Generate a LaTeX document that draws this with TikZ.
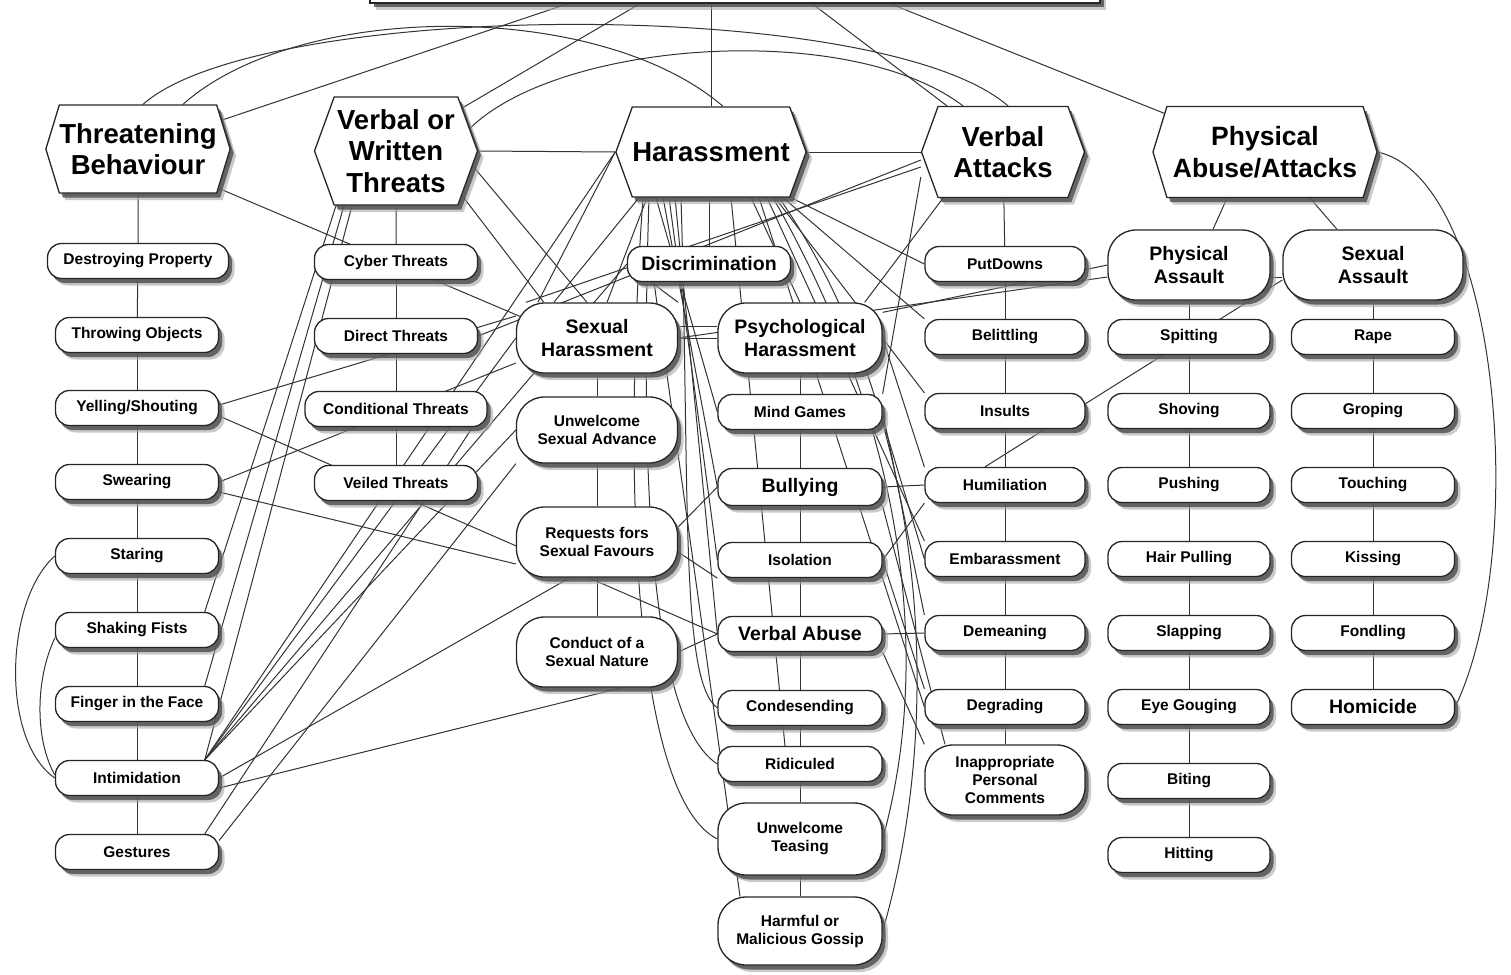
\documentclass[tikz,border=0pt]{standalone}
\usepackage{fontspec}
\setmainfont{Liberation Sans}
\usetikzlibrary{shapes.symbols,shadows,backgrounds}

\tikzset{
	shade/.style={general shadow={shadow xshift=6pt, shadow yshift=-7pt, fill=black!35, opacity=0.6},
		general shadow={shadow xshift=3.5pt, shadow yshift=-4.5pt, fill=black!70, opacity=0.8}},
	box/.style={rectangle, draw=black!85, line width=1.3pt, fill=white, rounded corners=14pt, minimum width=163pt, minimum height=35pt, inner sep=0pt, align=center, font=\fontsize{15.5}{18}\selectfont\bfseries, shade},
	bigbox/.style={box, rounded corners=28pt, minimum height=70pt},
	boldfont/.style={font=\fontsize{19.5}{22.5}\selectfont\bfseries},
	hexa/.style={signal, signal to=west and east, signal pointer angle=140, draw=black!85, line width=1.3pt, fill=white, inner sep=0pt, align=center, font=\fontsize{27.5}{31.5}\selectfont\bfseries, shade},
	link/.style={line width=1pt, draw=black!80},
}

\begin{document}
\begin{tikzpicture}[x=1pt, y=-1pt]
	\useasboundingbox (0,0) rectangle (1511,974);

	\node[draw=black!85, line width=1.3pt, fill=white, minimum width=730pt, minimum height=60pt, shade] (top) at (735,-27) {};

	\node[hexa, minimum width=184pt, minimum height=88pt, signal pointer angle=146] (tb) at (138,149) {Threatening\\Behaviour};
	\node[hexa, minimum width=163pt, minimum height=108pt] (vwt) at (396,151)  {Verbal or\\Written\\Threats};
	\node[hexa, minimum width=188pt, minimum height=90pt]  (har) at (711,152)  {Harassment};
	\node[hexa, minimum width=163pt, minimum height=91pt]  (vat) at (1003,152) {Verbal\\Attacks};
	\node[hexa, minimum width=224pt, minimum height=91pt, signal pointer angle=146, font=\fontsize{26.5}{31.5}\selectfont\bfseries] (paa) at (1265,152) {Physical\\Abuse/Attacks};

	\node[box, minimum width=181pt] (dp)   at (138,261) {Destroying Property};
	\node[box]                      (tob)  at (137,335) {Throwing Objects};
	\node[box]                      (ys)   at (137,408) {Yelling/Shouting};
	\node[box]                      (sw)   at (137,482) {Swearing};
	\node[box]                      (sta)  at (137,556) {Staring};
	\node[box]                      (sf)   at (137,630) {Shaking Fists};
	\node[box]                      (ff)   at (137,704) {Finger in the Face};
	\node[box]                      (inti) at (137,778) {Intimidation};
	\node[box]                      (ges)  at (137,852) {Gestures};

	\node[box]                      (cyt) at (396,262) {Cyber Threats};
	\node[box]                      (dit) at (396,336) {Direct Threats};
	\node[box, minimum width=182pt] (cot) at (396,409) {Conditional Threats};
	\node[box]                      (vet) at (396,483) {Veiled Threats};

	\node[bigbox, boldfont, minimum width=161pt] (sh)  at (597,338) {Sexual\\Harassment};
	\node[bigbox, minimum width=161pt, minimum height=66pt] (usa) at (597,430) {Unwelcome\\Sexual Advance};
	\node[bigbox, minimum width=161pt] (rsf) at (597,542) {Requests fors\\Sexual Favours};
	\node[bigbox, minimum width=161pt] (csn) at (597,652) {Conduct of a\\Sexual Nature};
	\node[box, boldfont] (disc) at (709,264) {Discrimination};

	\node[bigbox, boldfont, minimum width=164pt] (ph) at (800,338) {Psychological\\Harassment};
	\node[box, minimum width=164pt]           (mg)   at (800,412) {Mind Games};
	\node[box, boldfont, minimum width=164pt, minimum height=37pt] (bul) at (800,487) {Bullying};
	\node[box, minimum width=164pt]           (iso)  at (800,560) {Isolation};
	\node[box, boldfont, minimum width=164pt] (vab)  at (800,634) {Verbal Abuse};
	\node[box, minimum width=164pt]           (cond) at (800,708) {Condesending};
	\node[box, minimum width=164pt]           (rid)  at (800,764) {Ridiculed};
	\node[bigbox, minimum width=164pt, minimum height=72pt] (ute) at (800,839) {Unwelcome\\Teasing};
	\node[bigbox, minimum width=164pt, minimum height=68pt] (hmg) at (800,931) {Harmful or\\Malicious Gossip};

	\node[box, minimum width=160pt] (pd)  at (1005,264) {PutDowns};
	\node[box, minimum width=160pt] (bel) at (1005,337) {Belittling};
	\node[box, minimum width=160pt] (ins) at (1005,411) {Insults};
	\node[box, minimum width=160pt] (hum) at (1005,485) {Humiliation};
	\node[box, minimum width=160pt] (emb) at (1005,559) {Embarassment};
	\node[box, minimum width=160pt] (dem) at (1005,633) {Demeaning};
	\node[box, minimum width=160pt] (deg) at (1005,707) {Degrading};
	\node[bigbox, minimum width=160pt] (ipc) at (1005,780) {Inappropriate\\Personal\\Comments};

	\node[bigbox, boldfont, minimum width=162pt] (pas) at (1189,265) {Physical\\Assault};
	\node[box, minimum width=162pt] (spi) at (1189,337) {Spitting};
	\node[box, minimum width=162pt] (sho) at (1189,411) {Shoving};
	\node[box, minimum width=162pt] (pus) at (1189,485) {Pushing};
	\node[box, minimum width=162pt] (hp)  at (1189,559) {Hair Pulling};
	\node[box, minimum width=162pt] (sla) at (1189,633) {Slapping};
	\node[box, minimum width=162pt] (eg)  at (1189,707) {Eye Gouging};
	\node[box, minimum width=162pt] (bit) at (1189,781) {Biting};
	\node[box, minimum width=162pt] (hit) at (1189,855) {Hitting};

	\node[bigbox, boldfont, minimum width=180pt] (sas) at (1373,265) {Sexual\\Assault};
	\node[box] (rap) at (1373,337) {Rape};
	\node[box] (gro) at (1373,411) {Groping};
	\node[box] (tou) at (1373,485) {Touching};
	\node[box] (kis) at (1373,559) {Kissing};
	\node[box] (fon) at (1373,633) {Fondling};
	\node[box, boldfont] (hom) at (1373,707) {Homicide};

	\begin{scope}[on background layer]
		\foreach \a/\b in {tb/dp,dp/tob,tob/ys,ys/sw,sw/sta,sta/sf,sf/ff,ff/inti,inti/ges,
			vwt/cyt,cyt/dit,dit/cot,cot/vet,sh/usa,usa/rsf,rsf/csn,
			ph/mg,mg/bul,bul/iso,iso/vab,vab/cond,cond/rid,rid/ute,ute/hmg,
			vat/pd,pd/bel,bel/ins,ins/hum,hum/emb,emb/dem,dem/deg,deg/ipc,
			pas/spi,spi/sho,sho/pus,pus/hp,hp/sla,sla/eg,eg/bit,bit/hit,
			sas/rap,rap/gro,gro/tou,tou/kis,kis/fon,fon/hom}
			\draw[link] (\a) to (\b);

		\draw[link] (har.north) to (har.north |- top.south);
		\draw[link] (tb.19) to ([xshift=-167pt]top.south);
		\draw[link] (vwt.33) to ([xshift=-95pt]top.south);
		\draw[link] ([xshift=-56pt]vat.north) to ([xshift=77pt]top.south);
		\draw[link] (paa.159) to ([xshift=155pt]top.south);
		\draw[link] ([xshift=5pt]tb.north) .. controls (260,0) and (880,-5) .. ([xshift=5pt]vat.north);
		\draw[link] ([xshift=45pt]tb.north) .. controls (300,0) and (600,0) .. ([xshift=12pt]har.north);
		\draw[link] (vwt.17) .. controls (560,40) and (850,20) .. ([xshift=-40pt]vat.north);
		\draw[link] (vwt.east) to (har.west);
		\draw[link] (har.east) to (vat.west);
		\draw[link] (paa.east) .. controls (1500,180) and (1530,550) .. (hom.east);

		\draw[link] ([xshift=-38pt]paa.south) to ([xshift=24pt]pas.north);
		\draw[link] ([xshift=45pt]paa.south) to ([xshift=-36pt]sas.north);
		\draw[link] ([yshift=-12pt]pas.east) to ([yshift=-12pt]sas.west);
		\draw[link] (pas.west) to ([yshift=-10pt]ph.north east);
		\draw[link] ([yshift=-12pt]pas.west) to (sh.east);
		\draw[link] ([yshift=-15pt]sas.west) to ([xshift=-20pt]hum.north);

		\draw[link] (sta.west) .. controls (5,600) and (0,740) .. (inti.west);
		\draw[link] ([yshift=-8pt]sf.west) .. controls (35,680) and (35,740) .. ([yshift=3pt]inti.west);
		\draw[link] ([xshift=-60pt]vwt.south) to (sf.15);
		\draw[link] ([xshift=-52pt]vwt.south) to (ff.15);
		\draw[link] ([xshift=-44pt]vwt.south) to (inti.15);
		\draw[link] (inti.15) to (har.west);
		\draw[link] (inti.15) to (sh.west);
		\draw[link] (inti.15) to (usa.west);
		\draw[link] (inti.15) to (disc.west);
		\draw[link] (inti.east) to ([xshift=-27pt]rsf.south);
		\draw[link] ([yshift=-10pt]inti.east) to ([xshift=25pt]csn.south);
		\draw[link] (ges.15) to ([xshift=-15pt]cot.south east);
		\draw[link] (ges.8) to (usa.south west);

		\draw[link] (tb.-26) to ([xshift=4pt,yshift=-14pt]sh.north west);
		\draw[link] ([yshift=3pt]ys.east) to ([yshift=22pt]sh.west);
		\draw[link] ([yshift=-8pt]ys.east) to (vab.west);
		\draw[link] (sw.east) to ([yshift=-25pt]sh.west);
		\draw[link] ([yshift=-10pt]sw.east) to ([yshift=-22pt]rsf.west);
		\draw[link] (vwt.-11) to ([xshift=-10pt]sh.north);
		\draw[link] (vwt.-34) to ([xshift=28pt]sh.north west);

		\draw[link] (har.west) to ([xshift=22pt]sh.north west);
		\draw[link] ([xshift=-72pt]har.south) to ([xshift=38pt]sh.north west);
		\draw[link] ([xshift=-64pt]har.south) to ([xshift=10pt]sh.north);
		\draw[link] (disc.north) to (disc.north |- har.south);
		\draw[link] (disc.west) to (sh.north east);
		\draw[link] ([xshift=40pt]har.south) to (ph.north);
		\draw[link] (sh.east) to (ph.west);
		\draw[link] ([yshift=12pt]sh.east) to ([yshift=12pt]ph.west);

		\draw[link] ([xshift=-55pt]har.south) to (mg.west);
		\draw[link] ([xshift=-48pt]har.south) to (bul.west);
		\draw[link] ([xshift=-42pt]har.south) to (iso.west);
		\draw[link] ([xshift=-36pt]har.south) to (vab.west);
		\draw[link] ([xshift=-30pt]har.south) .. controls (690,500) and (680,680) .. (cond.west);
		\draw[link] ([xshift=-62pt]har.south) .. controls (640,480) and (650,720) .. (rid.west);
		\draw[link] ([xshift=-68pt]har.south) .. controls (620,520) and (640,800) .. (ute.west);
		\draw[link] ([xshift=-55pt]disc.south) to ([xshift=-60pt]hmg.north);
		\draw[link] ([xshift=20pt]har.south) to ([xshift=-15pt]rid.north);
		\draw[link] ([xshift=62pt]har.south) .. controls (900,420) and (935,650) .. (ute.east);
		\draw[link] ([xshift=68pt]har.south) .. controls (920,400) and (950,700) .. (hmg.east);

		\draw[link] ([xshift=80pt]har.south) to (pd.west);
		\draw[link] ([xshift=72pt]har.south) to (bel.north west);
		\draw[link] ([xshift=64pt]har.south) to (ins.north west);
		\draw[link] ([xshift=56pt]har.south) to (emb.north west);
		\draw[link] ([xshift=48pt]har.south) to (deg.west);

		\draw[link] ([yshift=-15pt]vat.west) to ([xshift=10pt]sh.north west);
		\draw[link] ([yshift=-8pt]vat.west) to (dit.east);
		\draw[link] ([yshift=-25pt]vat.west) to (mg.north east);
		\draw[link] ([xshift=-60pt]vat.south) to ([xshift=-18pt]ph.north east);

		\draw[link] ([yshift=15pt]rsf.east) to (bul.west);
		\draw[link] (csn.east) to (vab.west);
		\draw[link] ([yshift=-10pt]rsf.east) to (iso.south west);
		\draw[link] (ph.east) to (hum.north west);
		\draw[link] (bul.east) to (hum.west);
		\draw[link] (vab.east) to (dem.west);
		\draw[link] (mg.east) to (dem.north west);
		\draw[link] ([yshift=-8pt]mg.east) to (emb.west);
		\draw[link] (hum.south west) to (iso.east);
		\draw[link] (bul.south east) to ([xshift=-60pt]ipc.north);
		\draw[link] (iso.east) to (deg.north west);
		\draw[link] (vab.south east) to (ipc.north west);
	\end{scope}
\end{tikzpicture}
\end{document}
